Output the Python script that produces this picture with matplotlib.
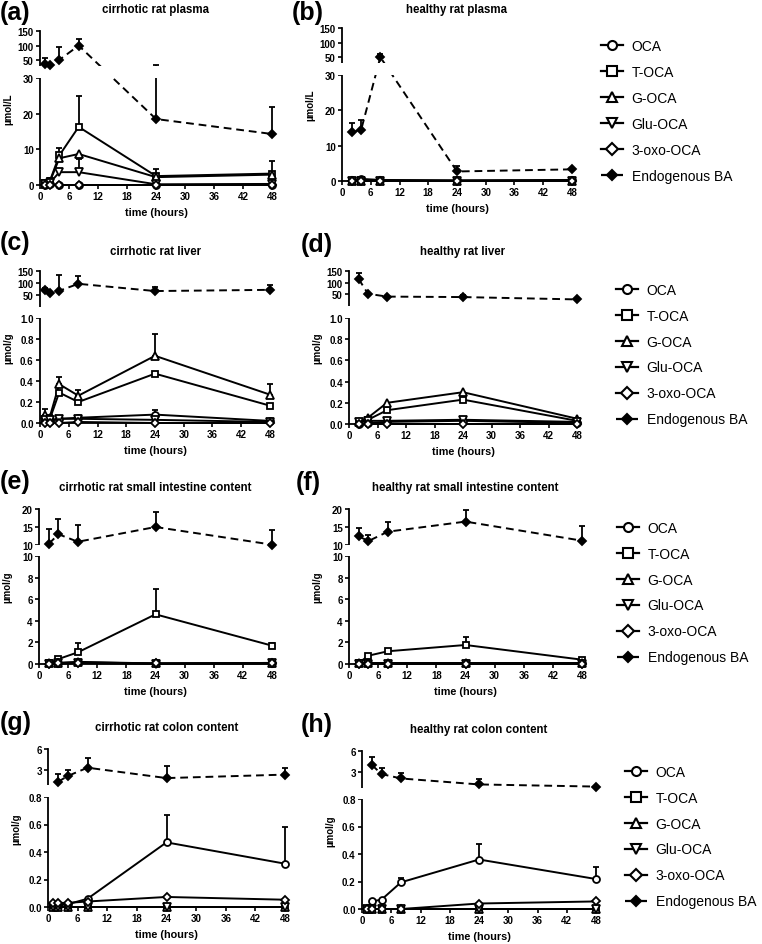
import numpy as np
import matplotlib
matplotlib.use("Agg")
import matplotlib.pyplot as plt
from matplotlib.lines import Line2D
from matplotlib.patches import Rectangle

plt.rcParams['font.family'] = ['Liberation Sans', 'DejaVu Sans']
plt.rcParams['font.weight'] = 'bold'

nan = np.nan

names = ['OCA', 'T-OCA', 'G-OCA', 'Glu-OCA', '3-oxo-OCA', 'Endogenous BA']
hours = [0, 6, 12, 18, 24, 30, 36, 42, 48]

# sampling times (hours)
t_cirr = [1, 2, 4, 8, 24, 48]
t_heal = [2, 4, 8, 24, 48]

# (a) cirrhotic rat plasma, µmol/L
a_oca = [0.1, 0.2, 0.0, 0.0, 0.0, 0.1]
a_toca = [0.5, 1.0, 8.3, 16.3, 2.5, 3.2]
a_goca = [0.3, 0.8, 7.5, 8.7, 2.2, 2.9]
a_glu = [0.2, 0.5, 3.6, 3.6, 0.2, 0.3]
a_oxo = [0.0, 0.1, 0.0, 0.0, 0.0, 0.0]
a_endo = [36, 33, 51, 100, 18.5, 14.3]
a_toca_err = [0.7, 1.0, 2.2, 8.7, 2.0, 3.5]
a_goca_err = [0, 0.8, 1.5, 0, 0, 0]
a_glu_err = [0, 0, 0, 3.8, 0, 0]
a_endo_err = [22, 0, 43, 23, 15.5, 7.7]

# (b) healthy rat plasma, µmol/L
b_oca = [0.2, 0.6, 0.3, 0.2, 0.3]
b_toca = [0.1, 0.2, 0.1, 0.1, 0.1]
b_goca = [0.1, 0.1, 0.1, 0.1, 0.1]
b_glu = [0.1, 0.1, 0.1, 0.0, 0.1]
b_oxo = [0.0, 0.1, 0.0, 0.0, 0.0]
b_endo = [13.8, 14.5, 50, 2.7, 3.3]
b_endo_err = [2.5, 2.8, 12, 1.6, 0]

# (c) cirrhotic rat liver, µmol/g
c_oca = [0.02, 0.02, 0.04, 0.05, 0.08, 0.02]
c_toca = [0.04, 0.03, 0.29, 0.20, 0.47, 0.165]
c_goca = [0.08, 0.05, 0.37, 0.26, 0.64, 0.27]
c_glu = [0.03, 0.03, 0.04, 0.04, 0.03, 0.01]
c_oxo = [0.0, 0.0, 0.0, 0.01, 0.0, 0.0]
c_endo = [72, 60, 68, 97, 67, 72]
c_oca_err = [0.01, 0, 0, 0, 0.04, 0]
c_toca_err = [0.03, 0, 0, 0, 0, 0]
c_goca_err = [0.05, 0.03, 0.07, 0.05, 0.21, 0.10]
c_endo_err = [8, 0, 64, 32, 16, 21]

# (d) healthy rat liver, µmol/g
d_oca = [0.0, 0.01, 0.02, 0.03, 0.01]
d_toca = [0.02, 0.04, 0.13, 0.23, 0.03]
d_goca = [0.02, 0.06, 0.20, 0.30, 0.05]
d_glu = [0.02, 0.03, 0.03, 0.04, 0.02]
d_oxo = [0.0, 0.0, 0.0, 0.0, 0.0]
d_endo = [117, 53, 41, 39, 29]
d_endo_err = [26, 0, 0, 10, 0]

# (e) cirrhotic rat small intestine content, µmol/g
e_oca = [0.05, 0.1, 0.2, 0.05, 0.1]
e_toca = [0.05, 0.46, 1.08, 4.6, 1.7]
e_goca = [0.05, 0.1, 0.15, 0.05, 0.05]
e_glu = [0.02, 0.05, 0.1, 0.02, 0.05]
e_oxo = [0.02, 0.05, 0.1, 0.05, 0.1]
e_endo = [10.3, 13.0, 10.9, 15.0, 10.1]
e_toca_err = [0, 0, 0.85, 2.3, 0.2]
e_endo_err = [4.1, 4.3, 4.7, 4.1, 4.2]

# (f) healthy rat small intestine content, µmol/g
f_oca = [0.05, 0.05, 0.05, 0.05, 0.05]
f_toca = [0.1, 0.77, 1.18, 1.76, 0.4]
f_goca = [0.05, 0.05, 0.05, 0.05, 0.05]
f_glu = [0.02, 0.02, 0.02, 0.02, 0.02]
f_oxo = [0.0, 0.0, 0.0, 0.0, 0.0]
f_endo = [12.4, 11.1, 13.7, 16.5, 11.2]
f_toca_err = [0, 0, 0, 0.74, 0]
f_endo_err = [2.4, 1.8, 2.6, 3.2, 4.0]

# (g) cirrhotic rat colon content, µmol/g
g_oca = [0.01, 0.01, 0.02, 0.06, 0.47, 0.315]
g_toca = [0.0, 0.0, 0.0, 0.0, 0.0, 0.0]
g_goca = [0.0, 0.0, 0.0, 0.0, 0.0, 0.0]
g_glu = [0.0, 0.0, 0.0, 0.0, 0.0, 0.0]
g_oxo = [0.03, 0.03, 0.03, 0.04, 0.073, 0.053]
g_endo = [nan, 1.24, 2.1, 3.3, 1.8, 2.3]
g_oca_err = [0, 0, 0, 0, 0.20, 0.265]
g_endo_err = [0, 1.2, 0.9, 1.4, 1.7, 1.0]

# (h) healthy rat colon content, µmol/g
h_oca = [0.0, 0.055, 0.068, 0.194, 0.36, 0.218]
h_toca = [0.0, 0.0, 0.0, 0.0, 0.0, 0.0]
h_goca = [0.0, 0.0, 0.0, 0.0, 0.0, 0.0]
h_glu = [0.0, 0.0, 0.0, 0.0, 0.0, 0.0]
h_oxo = [0.0, 0.0, 0.0, 0.0, 0.04, 0.055]
h_endo = [nan, 4.05, 2.76, 2.14, 1.3, 1.0]
h_oca_err = [0, 0, 0, 0.03, 0.11, 0.087]
h_endo_err = [0, 1.15, 0.84, 0.72, 0.7, 0]

# marker styles for the six series
styles = [
    dict(marker='o', ms=5, mfc='white', ls='-'),
    dict(marker='s', ms=5, mfc='white', ls='-'),
    dict(marker='^', ms=5.5, mfc='white', ls='-'),
    dict(marker='v', ms=5.5, mfc='white', ls='-'),
    dict(marker='D', ms=4.3, mfc='white', ls='-'),
    dict(marker='D', ms=4, mfc='black', ls=(0, (4, 2.5))),
]

W, H = 762, 945
fig = plt.figure(figsize=(W / 100, H / 100), dpi=100)


def fig_rect(l, r, t, b):
    return [l / W, 1 - b / H, (r - l) / W, (b - t) / H]


# geometry in pixels: x0, x48, top-seg top, top-seg bottom, bottom-seg top, zero
panels = [
    dict(tag='(a)', title='cirrhotic rat plasma', unit='µmol/L', t=t_cirr,
         vals=[a_oca, a_toca, a_goca, a_glu, a_oxo, a_endo],
         errs=[None, a_toca_err, a_goca_err, a_glu_err, None, a_endo_err],
         geom=(40, 272, 32, 67, 79, 186), brk=30, hi=150, top_ticks=[50, 100, 150],
         bot_ticks=[0, 10, 20, 30], fmt='%d', tag_xy=(0, 13), title_y=10),
    dict(tag='(b)', title='healthy rat plasma', unit='µmol/L', t=t_heal,
         vals=[b_oca, b_toca, b_goca, b_glu, b_oxo, b_endo],
         errs=[None, None, None, None, None, b_endo_err],
         geom=(342, 572, 29, 64, 76, 182), brk=30, hi=150, top_ticks=[50, 100, 150],
         bot_ticks=[0, 10, 20, 30], fmt='%d', tag_xy=(292, 13), title_y=10),
    dict(tag='(c)', title='cirrhotic rat liver', unit='µmol/g', t=t_cirr,
         vals=[c_oca, c_toca, c_goca, c_glu, c_oxo, c_endo],
         errs=[c_oca_err, c_toca_err, c_goca_err, None, None, c_endo_err],
         geom=(40, 270, 272, 308, 319, 424), brk=1.0, hi=150, top_ticks=[50, 100, 150],
         bot_ticks=[0, 0.2, 0.4, 0.6, 0.8, 1.0], fmt='%.1f', tag_xy=(0, 243), title_y=252),
    dict(tag='(d)', title='healthy rat liver', unit='µmol/g', t=t_heal,
         vals=[d_oca, d_toca, d_goca, d_glu, d_oxo, d_endo],
         errs=[None, None, None, None, None, d_endo_err],
         geom=(349, 577, 272, 307, 319, 425), brk=1.0, hi=150, top_ticks=[50, 100, 150],
         bot_ticks=[0, 0.2, 0.4, 0.6, 0.8, 1.0], fmt='%.1f', tag_xy=(301, 245), title_y=252),
    dict(tag='(e)', title='cirrhotic rat small intestine content', unit='µmol/g', t=t_heal,
         vals=[e_oca, e_toca, e_goca, e_glu, e_oxo, e_endo],
         errs=[None, e_toca_err, None, None, None, e_endo_err],
         geom=(39, 272, 510, 546, 557, 665), brk=10, hi=20, top_ticks=[10, 15, 20],
         bot_ticks=[0, 2, 4, 6, 8, 10], fmt='%d', tag_xy=(0, 482), title_y=488),
    dict(tag='(f)', title='healthy rat small intestine content', unit='µmol/g', t=t_heal,
         vals=[f_oca, f_toca, f_goca, f_glu, f_oxo, f_endo],
         errs=[None, f_toca_err, None, None, None, f_endo_err],
         geom=(349, 582, 510, 546, 557, 665), brk=10, hi=20, top_ticks=[10, 15, 20],
         bot_ticks=[0, 2, 4, 6, 8, 10], fmt='%d', tag_xy=(296, 483), title_y=488),
    dict(tag='(g)', title='cirrhotic rat colon content', unit='µmol/g', t=t_cirr,
         vals=[g_oca, g_toca, g_goca, g_glu, g_oxo, g_endo],
         errs=[g_oca_err, None, None, None, None, g_endo_err],
         geom=(48, 285, 750, 786, 798, 908), brk=0.8, hi=6, top_ticks=[3, 6],
         bot_ticks=[0, 0.2, 0.4, 0.6, 0.8], fmt='%.1f', tag_xy=(0, 723), title_y=728),
    dict(tag='(h)', title='healthy rat colon content', unit='µmol/g', t=t_cirr,
         vals=[h_oca, h_toca, h_goca, h_glu, h_oxo, h_endo],
         errs=[h_oca_err, None, None, None, None, h_endo_err],
         geom=(362, 596, 752, 789, 800, 910), brk=0.8, hi=6, top_ticks=[3, 6],
         bot_ticks=[0, 0.2, 0.4, 0.6, 0.8], fmt='%.1f', tag_xy=(301, 725), title_y=730),
]


def broken_scale(brk, hi, lb, gap, lt):
    # piecewise linear y scale, in pixels, with a gap between the two segments
    def fwd(y):
        y = np.asarray(y, float)
        return np.where(y <= brk, y / brk * lb, lb + gap + (y - brk) / (hi - brk) * lt)

    def inv(s):
        s = np.asarray(s, float)
        return np.where(s <= lb, s / lb * brk,
                        np.where(s < lb + gap, brk, brk + (s - lb - gap) / lt * (hi - brk)))
    return fwd, inv


for p in panels:
    x0, x48, tt, tb, bt, b0 = p['geom']
    pph = (x48 - x0) / 48
    xl, xr = -1.2, 49.2
    al, ar = x0 + xl * pph, x0 + xr * pph

    brk, hi = p['brk'], p['hi']
    lb, gap, lt = b0 - bt, bt - tb, tb - tt
    pad_px = 4
    pad = pad_px * brk / lb
    ab = b0 + pad_px

    ax = fig.add_axes(fig_rect(al, ar, tt, ab))
    ax.set_yscale('function', functions=broken_scale(brk, hi, lb, gap, lt))
    ax.set_xlim(xl, xr)
    ax.set_ylim(-pad, hi)
    ax.patch.set_alpha(0)

    for s in ['top', 'right']:
        ax.spines[s].set_visible(False)
    for s in ['left', 'bottom']:
        ax.spines[s].set_linewidth(1.3)
    ax.spines['left'].set_position(('data', 0))
    ax.spines['left'].set_bounds(0, hi)
    ax.spines['bottom'].set_position(('data', 0))
    ax.spines['bottom'].set_bounds(0, 48)
    ax.tick_params(direction='out', length=3, width=1.2, labelsize=7, pad=1.5)

    # a top tick equal to the break value sits just above the gap
    top_pos = [v if v > brk else brk * (1 + 1e-9) for v in p['top_ticks']]
    ax.set_yticks(p['bot_ticks'] + top_pos)
    ax.set_yticklabels([p['fmt'] % v for v in p['bot_ticks']] + ['%d' % v for v in p['top_ticks']])
    ax.minorticks_off()
    ax.set_xticks(hours)

    t = np.asarray(p['t'], float)
    for i, (vals, err, st) in enumerate(zip(p['vals'], p['errs'], styles)):
        y = np.asarray(vals, float)
        if err is not None:
            e = np.asarray(err, float)
            m = e > 0
            ax.errorbar(t[m], y[m], yerr=[np.zeros(m.sum()), e[m]], fmt='none',
                        ecolor='black', elinewidth=1.3, capsize=2.4, capthick=1.3,
                        zorder=2 + i * 0.1)
        ax.plot(t, y, color='black', lw=1.4, ls=st['ls'], zorder=3 + i * 0.1)
        ax.plot(t, y, ls='none', marker=st['marker'], ms=st['ms'], mfc=st['mfc'],
                mec='black', mew=1.3, zorder=12 + i * 0.1)

    # blank band for the axis break
    f1 = (ab - bt) / (ab - tt)
    f2 = (ab - tb) / (ab - tt)
    sx = -xl / (xr - xl)
    ax.add_patch(Rectangle((sx - 0.02, f1), 1.1, f2 - f1, transform=ax.transAxes,
                           facecolor='white', edgecolor='none', zorder=10, clip_on=False))

    xc = (x0 + x48) / 2
    fig.text(xc / W, 1 - p['title_y'] / H, p['title'], ha='center', va='center', fontsize=8.3)
    fig.text(xc / W, 1 - (b0 + 27) / H, 'time (hours)', ha='center', va='center', fontsize=7.8)
    fig.text((x0 - 32) / W, 1 - ((tt + b0) / 2) / H, p['unit'], ha='center', va='center',
             rotation=90, fontsize=7)
    tx, ty = p['tag_xy']
    fig.text(tx / W, 1 - ty / H, p['tag'], ha='left', va='center', fontsize=18)

# one legend per row
handles = [Line2D([], [], color='black', lw=1.6, mec='black', mew=1.5,
                  marker=st['marker'], ms=st['ms'] + 1.5, mfc=st['mfc'], ls=st['ls'])
           for st in styles]
for hx, yc in [(601, 112), (616, 355.5), (617, 593.5), (625, 837.5)]:
    fig.legend(handles, names, loc='center left', bbox_to_anchor=(hx / W, 1 - yc / H),
               frameon=False, prop={'size': 10, 'weight': 'normal'}, handlelength=1.6,
               handletextpad=0.6, labelspacing=0.86, borderpad=0, borderaxespad=0)

fig.savefig('out.png', dpi=100)
